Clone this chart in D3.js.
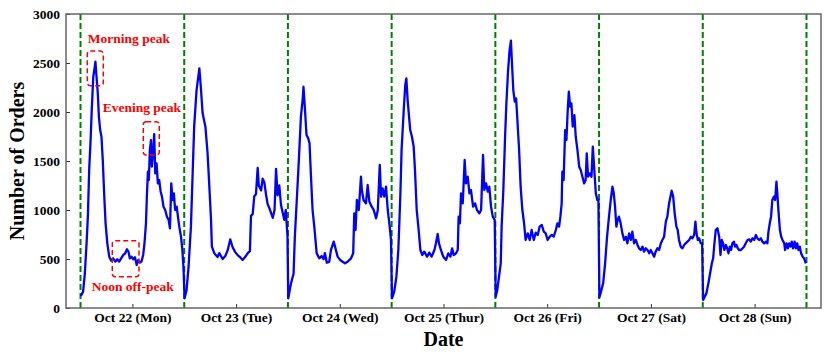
<!DOCTYPE html>
<html>
<head>
<meta charset="utf-8">
<script src="https://cdn.jsdelivr.net/npm/d3@7"></script>
<style>
  body { margin: 0; background: #fff; }
  text { font-family: "Liberation Serif", "Times New Roman", serif; font-weight: bold; }
</style>
</head>
<body>
<script>
// hours since midnight, orders
const oct22 = [[0.08,122],[0.6,167],[1.0,354],[1.4,660],[1.7,932],[2.0,1408],[2.3,1680],[2.6,2020],[2.95,2360],[3.25,2446],[3.45,2513],[3.7,2360],[4.0,2190],[4.25,1952],[4.55,1816],[4.85,1748],[5.15,1510],[5.5,1136],[5.8,864],[6.2,660],[6.65,524],[7.1,483],[7.55,507],[8.05,473],[8.5,497],[8.95,473],[9.4,507],[9.9,541],[10.35,558],[10.75,599],[11.1,575],[11.4,507],[11.8,524],[12.2,497],[12.6,517],[13.0,439],[13.35,490],[13.75,463],[14.1,473],[14.5,541],[14.8,660],[15.15,864],[15.35,1136],[15.6,1391],[15.8,1306],[16.05,1612],[16.3,1714],[16.5,1442],[16.85,1629],[17.05,1775],[17.3,1374],[17.6,1476],[17.9,1272],[18.2,1306],[18.55,1187],[18.85,1136],[19.2,1034],[19.6,1000],[20.0,932],[20.4,898],[20.7,813],[21.0,1272],[21.3,1102],[21.6,1170],[21.9,1000],[22.25,1034],[22.55,932],[22.85,830],[23.25,728],[23.55,609],[23.85,388]];
const oct23 = [[0.08,99],[0.55,184],[1.0,420],[1.55,830],[2.3,1850],[2.85,2220],[3.5,2446],[3.85,2250],[4.25,1990],[4.9,1850],[5.4,1580],[5.8,1250],[6.2,900],[6.4,626],[6.95,560],[7.7,520],[8.1,560],[8.9,500],[9.5,530],[10.05,590],[10.65,700],[11.2,620],[11.8,570],[12.35,540],[12.9,520],[13.5,490],[14.1,520],[14.7,560],[15.2,580],[15.45,940],[15.85,960],[16.2,1140],[16.6,1160],[17.0,1430],[17.25,1250],[17.8,1200],[18.15,1320],[18.55,1280],[18.95,1150],[19.3,1060],[19.7,1020],[20.5,920],[20.9,1000],[21.25,1420],[21.6,1150],[22.0,1250],[22.4,1050],[23.15,900],[23.5,1000],[23.9,730]];
const oct24 = [[0.08,99],[0.7,250],[1.3,350],[1.6,728],[2.25,1272],[2.6,1578],[3.0,1952],[3.4,2122],[3.6,2258],[3.9,2054],[4.3,1765],[4.7,1731],[5.0,1680],[5.3,1374],[5.7,1000],[6.1,830],[6.65,558],[7.25,507],[7.8,530],[8.25,500],[8.55,560],[9.0,462],[9.55,470],[9.95,592],[10.6,677],[10.9,626],[11.5,524],[12.1,490],[12.65,472],[13.2,456],[13.8,472],[14.6,507],[15.1,558],[15.35,966],[15.65,796],[15.95,1102],[16.4,1000],[16.9,1340],[17.1,1204],[17.5,1102],[18.05,1068],[18.45,1255],[18.85,1085],[19.4,1034],[19.85,1000],[20.4,915],[20.8,1000],[21.25,1459],[21.55,1136],[21.9,1221],[22.3,1136],[22.7,1238],[23.1,1000],[23.55,830],[23.85,694]];
const oct25 = [[0.08,99],[0.6,167],[1.1,320],[1.55,592],[2.0,1136],[2.3,1612],[2.8,2020],[3.15,2275],[3.4,2343],[3.7,2122],[4.1,1918],[4.3,1816],[4.7,1748],[5.1,1646],[5.4,1408],[5.8,1000],[6.25,796],[6.65,592],[7.1,541],[7.55,575],[8.2,524],[8.7,565],[9.25,524],[9.9,592],[10.25,660],[10.65,755],[10.95,660],[11.4,592],[11.95,524],[12.6,490],[13.1,558],[13.6,524],[14.0,609],[14.35,541],[14.9,558],[15.3,592],[15.5,932],[15.8,864],[16.05,1170],[16.45,1068],[16.9,1510],[17.2,1272],[17.6,1340],[18.0,1170],[18.35,1204],[18.85,1034],[19.3,1068],[19.75,1000],[20.3,966],[20.7,1000],[21.15,1561],[21.45,1204],[21.85,1272],[22.25,1187],[22.6,1238],[23.0,1034],[23.4,932],[23.85,900]];
const oct26 = [[0.08,116],[0.45,184],[0.85,320],[1.25,456],[1.45,830],[1.85,1204],[2.25,1748],[2.55,2088],[2.95,2428],[3.3,2632],[3.6,2728],[3.85,2496],[4.15,2224],[4.5,2105],[4.8,2139],[5.1,1918],[5.5,1612],[5.85,1238],[6.25,1000],[6.65,864],[7.0,694],[7.5,762],[7.95,694],[8.4,796],[8.9,694],[9.35,769],[9.8,745],[10.25,830],[10.75,847],[11.2,779],[11.65,762],[12.1,694],[12.6,728],[13.05,745],[13.5,728],[14.0,796],[14.35,864],[14.75,830],[15.05,932],[15.35,1068],[15.5,1391],[15.8,1306],[16.15,1816],[16.45,1714],[16.75,2020],[17.0,2207],[17.3,2054],[17.6,2088],[17.9,1850],[18.3,1969],[18.6,1748],[19.0,1612],[19.4,1442],[19.75,1408],[20.15,1340],[20.55,1272],[20.9,1306],[21.15,1578],[21.45,1340],[21.85,1374],[22.25,1340],[22.55,1646],[22.85,1442],[23.25,1170],[23.6,1102],[23.85,1102]];
const oct27 = [[0.08,109],[0.45,167],[0.95,252],[1.4,456],[1.85,728],[2.3,932],[2.7,1102],[3.1,1238],[3.4,1170],[3.7,1034],[4.0,830],[4.3,898],[4.6,932],[5.0,864],[5.4,762],[5.8,694],[6.2,728],[6.55,660],[6.95,762],[7.35,694],[7.7,779],[8.1,660],[8.5,694],[8.9,643],[9.25,609],[9.65,592],[10.05,626],[10.4,575],[10.8,609],[11.2,592],[11.6,558],[11.95,592],[12.35,558],[12.75,524],[13.1,575],[13.5,609],[13.9,592],[14.3,660],[14.65,694],[15.05,728],[15.45,881],[15.8,932],[16.2,1068],[16.6,1153],[16.8,1197],[17.15,1136],[17.5,966],[17.9,830],[18.2,796],[18.5,694],[18.9,626],[19.3,609],[19.7,643],[20.05,660],[20.45,677],[20.85,694],[21.25,728],[21.6,711],[22.0,745],[22.3,881],[22.55,762],[22.85,694],[23.15,711],[23.55,660],[23.85,660]];
const oct28 = [[0.08,82],[0.45,116],[0.85,150],[1.3,252],[1.7,354],[2.1,456],[2.4,507],[2.7,660],[3.0,796],[3.4,813],[3.8,728],[4.1,541],[4.4,694],[4.7,660],[5.0,592],[5.35,643],[5.65,609],[5.95,558],[6.25,626],[6.55,592],[6.85,660],[7.2,677],[7.5,626],[7.8,643],[8.1,609],[8.4,592],[8.8,592],[9.2,609],[9.55,626],[9.95,660],[10.35,694],[10.75,701],[11.1,677],[11.5,711],[11.9,694],[12.3,745],[12.65,711],[13.05,694],[13.45,711],[13.8,677],[14.2,660],[14.6,677],[14.95,660],[15.2,779],[15.5,864],[15.8,932],[16.1,1102],[16.45,1136],[16.75,1102],[17.05,1289],[17.3,1136],[17.5,1000],[17.85,796],[18.15,728],[18.45,694],[18.85,660],[19.05,592],[19.4,660],[19.7,609],[20.0,660],[20.3,626],[20.6,677],[20.9,609],[21.25,677],[21.55,609],[21.85,660],[22.15,592],[22.45,626],[22.75,558],[23.1,524],[23.45,507],[23.85,456]];

const days = [oct22, oct23, oct24, oct25, oct26, oct27, oct28];
const dayLabels = ["Oct 22 (Mon)", "Oct 23 (Tue)", "Oct 24 (Wed)", "Oct 25 (Thur)", "Oct 26 (Fri)", "Oct 27 (Sat)", "Oct 28 (Sun)"];
const yTicks = [0, 500, 1000, 1500, 2000, 2500, 3000];

// annotation boxes in data units: [h0, h1, v0, v1]
const boxes = [[1.57, 5.27, 2268, 2622], [14.53, 18.23, 1561, 1901], [7.35, 13.53, 319, 687]];
const notes = [["Morning peak", 11.2, 2704], ["Evening peak", 14.2, 2003], ["Noon off-peak", 12.1, 177]];

const width = 830, height = 359;
const margin = { left: 66, right: 9, top: 14, bottom: 51 };

const series = [];
days.forEach((d, i) => d.forEach(p => series.push([p[0] + 24 * i, p[1]])));

const total = 24 * days.length;
const pad = total * 0.02;

const x = d3.scaleLinear().domain([-pad, total + pad]).range([margin.left, width - margin.right]);
const y = d3.scaleLinear().domain([0, 3000]).range([height - margin.bottom, margin.top]);

const svg = d3.select("body").append("svg")
  .attr("width", width)
  .attr("height", height);

// day boundaries
svg.append("g")
  .selectAll("line")
  .data(d3.range(days.length + 1))
  .enter()
  .append("line")
  .attr("x1", d => x(d * 24))
  .attr("x2", d => x(d * 24))
  .attr("y1", y(3000))
  .attr("y2", y(0))
  .attr("stroke", "#008000")
  .attr("stroke-width", 2)
  .attr("stroke-dasharray", "6,3");

svg.append("path")
  .datum(series)
  .attr("fill", "none")
  .attr("stroke", "#0000ff")
  .attr("stroke-width", 2.3)
  .attr("stroke-linejoin", "round")
  .attr("d", d3.line().x(d => x(d[0])).y(d => y(d[1])));

// axes with inward ticks
const xAxis = svg.append("g")
  .attr("transform", `translate(0,${height - margin.bottom})`)
  .call(d3.axisBottom(x)
    .tickValues(d3.range(days.length).map(i => i * 24 + 12))
    .tickFormat((d, i) => dayLabels[i])
    .tickSizeInner(-4).tickSizeOuter(0).tickPadding(4));

const yAxis = svg.append("g")
  .attr("transform", `translate(${margin.left},0)`)
  .call(d3.axisLeft(y).tickValues(yTicks).tickFormat(d3.format("d"))
    .tickSizeInner(-4).tickSizeOuter(0).tickPadding(6));

[xAxis, yAxis].forEach(g => {
  g.select(".domain").remove();
  g.selectAll(".tick line").attr("stroke", "#333");
  g.selectAll("text").attr("font-size", 13.5).attr("fill", "#000");
});

svg.append("rect")
  .attr("x", margin.left)
  .attr("y", margin.top)
  .attr("width", width - margin.left - margin.right)
  .attr("height", height - margin.top - margin.bottom)
  .attr("fill", "none")
  .attr("stroke", "#666")
  .attr("stroke-width", 1.5);

// annotations
svg.append("g")
  .selectAll("rect")
  .data(boxes)
  .enter()
  .append("rect")
  .attr("x", d => x(d[0]))
  .attr("y", d => y(d[3]))
  .attr("width", d => x(d[1]) - x(d[0]))
  .attr("height", d => y(d[2]) - y(d[3]))
  .attr("rx", 3)
  .attr("fill", "none")
  .attr("stroke", "#ff0000")
  .attr("stroke-width", 1.5)
  .attr("stroke-dasharray", "5,3");

svg.append("g")
  .selectAll("text")
  .data(notes)
  .enter()
  .append("text")
  .attr("x", d => x(d[1]))
  .attr("y", d => y(d[2]))
  .attr("text-anchor", "middle")
  .attr("font-size", 13.5)
  .attr("fill", "#ff0000")
  .text(d => d[0]);

svg.append("text")
  .attr("x", (margin.left + width - margin.right) / 2)
  .attr("y", 346)
  .attr("text-anchor", "middle")
  .attr("font-size", 20)
  .attr("fill", "#000")
  .text("Date");

svg.append("text")
  .attr("transform", `translate(24,${(margin.top + height - margin.bottom) / 2}) rotate(-90)`)
  .attr("text-anchor", "middle")
  .attr("font-size", 20)
  .attr("fill", "#000")
  .text("Number of Orders");
</script>
</body>
</html>
